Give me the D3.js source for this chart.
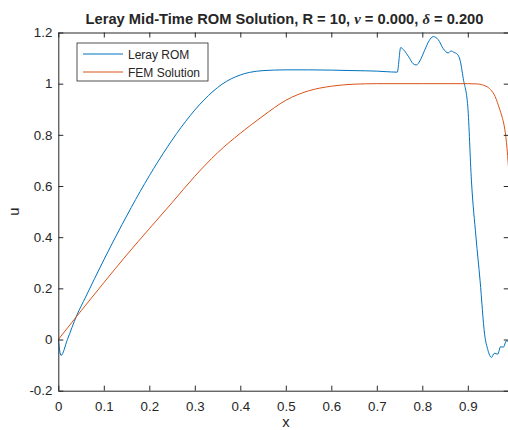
<!DOCTYPE html>
<html>
<head>
<meta charset="utf-8">
<style>
	body { margin: 0; background: #fff; }
	text { font-family: "Liberation Sans", Arial, Helvetica, sans-serif; fill: #262626; }
</style>
</head>
<body>
<svg width="508" height="430"></svg>
<script src="https://d3js.org/d3.v7.min.js"></script>
<script>
	const svg = d3.select("svg");
	const margin = { top: 32.5, right: -0.75, bottom: 39.3, left: 58.3 }; // plot box
	const width = 508 - margin.left - margin.right;
	const height = 430 - margin.top - margin.bottom;

	// FEM solution
	const femX = [0, 0.05, 0.1, 0.15, 0.2, 0.25, 0.3, 0.35, 0.4, 0.45, 0.5, 0.55, 0.6, 0.65, 0.7, 0.8, 0.9, 0.92, 0.94, 0.95, 0.96, 0.97, 0.975, 0.98, 0.985, 0.99];
	const femU = [0, 0.112, 0.222, 0.33, 0.433, 0.535, 0.638, 0.73, 0.806, 0.874, 0.935, 0.972, 0.99, 0.998, 1.0, 1.0, 1.0, 0.999, 0.99, 0.977, 0.95, 0.9, 0.872, 0.835, 0.77, 0.66];

	// Leray ROM
	const romX = [0, 0.006, 0.02, 0.04, 0.06, 0.08, 0.1, 0.12, 0.14, 0.16, 0.18, 0.2, 0.22, 0.24, 0.26, 0.28, 0.3, 0.32, 0.34, 0.36, 0.38, 0.4, 0.42, 0.45, 0.5, 0.55, 0.6, 0.65, 0.7, 0.72, 0.745,
		0.7525, 0.76, 0.77, 0.78, 0.787, 0.795, 0.805, 0.815, 0.824, 0.835, 0.846, 0.857, 0.863, 0.87, 0.877, 0.883, 0.89, 0.9, 0.908, 0.918, 0.927, 0.937,
		0.944, 0.952, 0.958, 0.966, 0.972, 0.978, 0.985, 0.99];
	const romU = [0, -0.062, 0.0, 0.092, 0.166, 0.239, 0.311, 0.381, 0.449, 0.515, 0.579, 0.64, 0.698, 0.753, 0.805, 0.853, 0.897, 0.936, 0.97, 0.998, 1.019, 1.034, 1.044, 1.051, 1.054, 1.054, 1.053, 1.051, 1.049, 1.047, 1.045,
		1.141, 1.13, 1.105, 1.078, 1.073, 1.09, 1.13, 1.168, 1.184, 1.172, 1.137, 1.12, 1.128, 1.122, 1.115, 1.092, 1.02, 0.91, 0.62, 0.4, 0.23, 0.02,
		-0.04, -0.07, -0.054, -0.057, -0.028, -0.03, -0.005, -0.01];

	const xTicks = [0, 0.1, 0.2, 0.3, 0.4, 0.5, 0.6, 0.7, 0.8, 0.9];
	const yTicks = [-0.2, 0, 0.2, 0.4, 0.6, 0.8, 1, 1.2];
	const seriesNames = ["Leray ROM", "FEM Solution"];
	const colors = ["#0072bd", "#d95319"];

	const x = d3.scaleLinear().domain([0, 0.99]).range([0, width]);
	const y = d3.scaleLinear().domain([-0.2, 1.2]).range([height, 0]);

	const g = svg.append("g").attr("transform", "translate(" + margin.left + "," + margin.top + ")");

	g.append("clipPath").attr("id", "clip")
		.append("rect").attr("width", width).attr("height", height);

	const line = d3.line()
		.x((d) => x(d[0]))
		.y((d) => y(d[1]))
		.curve(d3.curveMonotoneX);

	const series = [d3.zip(romX, romU), d3.zip(femX, femU)];
	g.append("g").attr("clip-path", "url(#clip)")
		.selectAll("path")
		.data(series)
		.join("path")
		.attr("d", line)
		.attr("fill", "none")
		.attr("stroke", (d, i) => colors[i])
		.attr("stroke-width", 1);

	// axes, ticks inward like matlab
	const fmt = (d) => (d === 0 ? "0" : String(d));
	const xa = g.append("g").attr("transform", "translate(0," + height + ")")
		.call(d3.axisBottom(x).tickValues(xTicks).tickFormat(fmt).tickSizeInner(-5).tickSizeOuter(0).tickPadding(11));
	const xt = g.append("g")
		.call(d3.axisTop(x).tickValues(xTicks).tickFormat("").tickSizeInner(-5).tickSizeOuter(0));
	const ya = g.append("g")
		.call(d3.axisLeft(y).tickValues(yTicks).tickFormat(fmt).tickSizeInner(-5).tickSizeOuter(0).tickPadding(6));
	const yr = g.append("g").attr("transform", "translate(" + width + ",0)")
		.call(d3.axisRight(y).tickValues(yTicks).tickFormat("").tickSizeInner(-5).tickSizeOuter(0));
	[xa, xt, ya, yr].forEach((a) => {
		a.selectAll(".domain").attr("stroke", "#262626");
		a.selectAll(".tick line").attr("stroke", "#262626");
		a.selectAll("text").attr("font-size", 13.3).attr("font-family", null).attr("fill", "#262626");
	});

	// title and labels
	svg.append("text")
		.attr("x", margin.left + x(0.99) / 2 + 1)
		.attr("y", 24)
		.attr("text-anchor", "middle")
		.attr("font-size", 14.7)
		.attr("font-weight", "bold")
		.html("Leray Mid-Time ROM Solution, R = 10, <tspan font-family='Liberation Serif' font-style='italic'>ν</tspan> = 0.000, <tspan font-family='Liberation Serif' font-style='italic'>δ</tspan> = 0.200");

	svg.append("text")
		.attr("x", margin.left + x(0.5))
		.attr("y", 427)
		.attr("text-anchor", "middle")
		.attr("font-size", 14.7)
		.text("x");

	svg.append("text")
		.attr("transform", "translate(19," + (margin.top + y(0.5)) + ") rotate(-90)")
		.attr("text-anchor", "middle")
		.attr("font-size", 14.7)
		.text("u");

	// legend
	const lg = svg.append("g").attr("transform", "translate(77,43)");
	lg.append("rect")
		.attr("width", 131)
		.attr("height", 38)
		.attr("fill", "#fff")
		.attr("stroke", "#262626")
		.attr("stroke-width", 0.8);
	const items = lg.selectAll("g.item")
		.data(seriesNames)
		.join("g")
		.attr("class", "item")
		.attr("transform", (d, i) => "translate(0," + (11 + i * 18) + ")");
	items.append("line")
		.attr("x1", 6).attr("x2", 46)
		.attr("stroke", (d, i) => colors[i])
		.attr("stroke-width", 1);
	items.append("text")
		.attr("x", 51)
		.attr("y", 4.5)
		.attr("font-size", 12)
		.text((d) => d);
</script>
</body>
</html>
